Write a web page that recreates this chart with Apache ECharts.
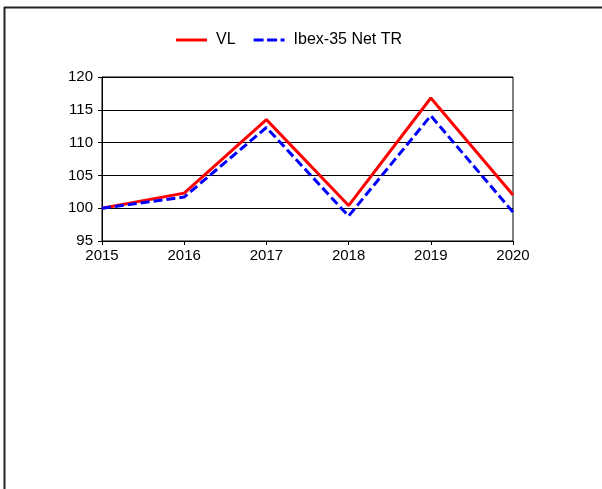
<!DOCTYPE html>
<html>
<head>
<meta charset="utf-8">
<script src="https://cdn.jsdelivr.net/npm/echarts@6/dist/echarts.min.js"></script>
<style>
  html, body { margin: 0; padding: 0; background: #fff; }
  #chart { width: 602px; height: 489px; }
</style>
</head>
<body>
<div id="chart"></div>
<script>
const years = ['2015', '2016', '2017', '2018', '2019', '2020'];
const vlValues = [100, 102.3, 113.5, 100.4, 116.8, 102.0];
const ibexValues = [100, 101.7, 112.3, 98.8, 114.1, 99.4];
const seriesNames = ['VL', 'Ibex-35 Net TR'];

const FONT = '"Liberation Sans", Arial, sans-serif';
const chart = echarts.init(document.getElementById('chart'), null, { renderer: 'canvas' });

const solidIcon = 'path://M0,0h31v3h-31z';
const dashIcon = 'path://M0,0h10v3h-10zM13.5,0h10v3h-10zM27,0h4v3h-4z';

chart.setOption({
  animation: false,
  backgroundColor: '#fff',
  textStyle: { fontFamily: FONT },
  graphic: [
    { type: 'line', shape: { x1: 4.5, y1: 7, x2: 4.5, y2: 489 }, style: { stroke: '#222', lineWidth: 2 } },
    { type: 'line', shape: { x1: 4, y1: 7.5, x2: 602, y2: 7.5 }, style: { stroke: '#222', lineWidth: 2 } }
  ],
  legend: {
    top: 32,
    left: 176,
    padding: 0,
    itemWidth: 31,
    itemHeight: 3,
    itemGap: 18,
    textStyle: { fontFamily: FONT, fontSize: 16, color: '#000', padding: [0, 0, 0, 4] },
    data: [
      { name: seriesNames[0], icon: solidIcon, itemStyle: { color: '#ff0000' } },
      { name: seriesNames[1], icon: dashIcon, itemStyle: { color: '#0000ff' } }
    ]
  },
  grid: {
    left: 102, right: 89, top: 77, bottom: 248,
    show: true, borderColor: '#000', borderWidth: 1, containLabel: false
  },
  xAxis: {
    type: 'category',
    data: years,
    boundaryGap: false,
    axisLine: { lineStyle: { color: '#000', width: 1 } },
    axisTick: { show: true, length: 4, alignWithLabel: true, lineStyle: { color: '#000' } },
    axisLabel: { color: '#000', fontSize: 15, fontFamily: FONT, margin: 7 },
    splitLine: { show: false }
  },
  yAxis: {
    type: 'value',
    min: 95, max: 120, interval: 5,
    axisLine: { show: true, lineStyle: { color: '#000', width: 1 } },
    axisTick: { show: true, length: 4, lineStyle: { color: '#000' } },
    axisLabel: { color: '#000', fontSize: 15, fontFamily: FONT, margin: 9 },
    splitLine: { show: true, lineStyle: { color: '#000', width: 1 } }
  },
  series: [
    {
      name: seriesNames[0], type: 'line', data: vlValues,
      symbol: 'none', color: '#ff0000',
      lineStyle: { color: '#ff0000', width: 3 }
    },
    {
      name: seriesNames[1], type: 'line', data: ibexValues,
      symbol: 'none', color: '#0000ff',
      lineStyle: { color: '#0000ff', width: 3, type: [9, 4] }
    }
  ]
});
</script>
</body>
</html>
